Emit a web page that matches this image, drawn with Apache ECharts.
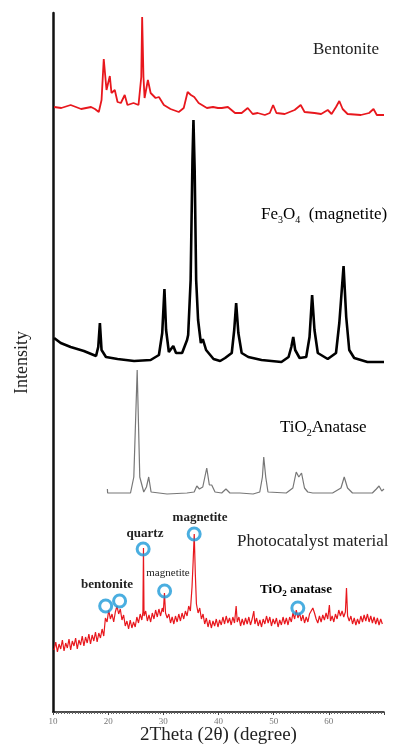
<!DOCTYPE html>
<html>
<head>
<meta charset="utf-8">
<title>XRD patterns</title>
<script src="https://cdn.jsdelivr.net/npm/echarts@6/dist/echarts.min.js"></script>
<style>
  html, body { margin: 0; padding: 0; background: #fff; }
  #chart { width: 395px; height: 747px; }
</style>
</head>
<body>
<div id="chart"></div>
<script>
// 2theta (degree) vs intensity, curves already stacked with their offsets
const bentonite = [
  [10.2, 605], [11.5, 604], [13.2, 607], [15.1, 603], [16.9, 605], [17.6, 603], [18.3, 600], [18.8, 612],
  [19.2, 653], [19.7, 622], [20.3, 636], [20.6, 619], [21.2, 622], [21.7, 610], [22.3, 609], [23.0, 617],
  [23.5, 607], [24.6, 609], [25.5, 607], [26.0, 635], [26.16, 695], [26.4, 635], [26.6, 614], [27.2, 632],
  [27.7, 619], [28.6, 614], [29.2, 615], [30.1, 607], [31.3, 603], [32.8, 600], [33.7, 604], [34.4, 620],
  [35.0, 617], [35.6, 615], [36.4, 609], [37.9, 604], [39.0, 605], [39.9, 604], [40.6, 604], [41.7, 605],
  [43.0, 599], [44.2, 599], [45.3, 604], [46.2, 598], [47.1, 599], [48.4, 597], [49.3, 599], [49.9, 607],
  [50.5, 599], [52.0, 598], [53.8, 602], [54.9, 607], [55.6, 600], [57.4, 599], [58.6, 598], [59.8, 602],
  [60.5, 598], [61.3, 605], [61.9, 611], [62.5, 603], [63.4, 598], [65.8, 597], [67.3, 599], [68.1, 603],
  [68.7, 597], [70.0, 597]
];

const magnetite = [
  [10.2, 374], [11.4, 369], [13.2, 365], [15.6, 361], [17.8, 356], [18.2, 365], [18.5, 389], [18.8, 362],
  [19.6, 355], [21.7, 353], [24.7, 351], [27.7, 352], [29.2, 357], [29.8, 379], [30.2, 423], [30.5, 382],
  [31.0, 360], [31.8, 366], [32.3, 359], [33.4, 359], [34.3, 372], [34.5, 377], [34.95, 432], [35.28, 552],
  [35.46, 592], [35.68, 542], [35.95, 432], [36.3, 392], [36.8, 369], [37.15, 373], [37.75, 362], [39.1, 353],
  [40.3, 351], [41.2, 354], [42.4, 359], [42.85, 382], [43.2, 409], [43.6, 379], [44.2, 359], [45.4, 355],
  [47.8, 352], [51.4, 350], [52.7, 355], [53.2, 365], [53.55, 375], [53.9, 362], [54.7, 354], [55.9, 355],
  [56.5, 375], [56.97, 417], [57.4, 382], [58.0, 359], [59.8, 353], [61.3, 359], [61.9, 389], [62.67, 446],
  [63.15, 395], [63.7, 362], [64.6, 354], [67.0, 350], [70.0, 350]
];

const anatase = [
  [19.86, 223], [19.9, 219], [21.05, 219], [24.05, 219], [24.65, 235], [25.26, 342], [25.73, 235], [26.45, 220],
  [26.94, 225], [27.35, 235], [27.78, 220], [30.67, 218], [34.27, 219], [35.59, 220], [36.07, 226], [36.54, 223],
  [37.15, 225], [37.87, 244], [38.34, 227], [38.77, 227], [39.37, 220], [40.58, 219], [41.35, 223], [42.07, 219],
  [43.87, 219], [46.27, 218], [47.48, 220], [47.96, 235], [48.2, 255], [48.56, 235], [48.97, 220], [52.29, 219],
  [53.48, 224], [54.09, 240], [54.56, 235], [55.05, 239], [55.59, 224], [56.18, 220], [57.08, 219], [60.68, 219],
  [62.2, 224], [62.79, 235], [63.39, 224], [64.29, 219], [67.89, 219], [68.61, 223], [69.1, 226], [69.59, 221],
  [70.0, 223]
];

const photocatalyst = [
  [10.2, 62], [10.5, 70], [10.8, 60], [11.1, 68], [11.4, 63], [11.7, 72], [12.0, 61], [12.3, 69], [12.6, 64],
  [12.9, 73], [13.2, 62], [13.5, 71], [13.8, 66], [14.1, 74], [14.4, 63], [14.7, 72], [15.0, 67], [15.3, 76],
  [15.6, 66], [15.9, 75], [16.2, 69], [16.5, 78], [16.8, 68], [17.1, 77], [17.4, 71], [17.7, 80], [18.0, 70],
  [18.3, 79], [18.6, 74], [18.9, 83], [19.2, 76], [19.5, 94], [19.8, 90], [20.1, 102], [20.4, 93], [20.7, 98],
  [21.0, 90], [21.3, 100], [21.6, 106], [21.9, 98], [22.2, 103], [22.5, 92], [22.8, 97], [23.1, 86], [23.4, 91],
  [23.7, 83], [24.0, 92], [24.3, 84], [24.6, 90], [24.9, 85], [25.2, 95], [25.5, 89], [25.8, 98], [26.1, 92],
  [26.3, 100], [26.4, 164], [26.5, 96], [26.8, 101], [27.1, 91], [27.4, 97], [27.7, 90], [28.0, 99], [28.3, 93],
  [28.6, 102], [28.9, 95], [29.2, 103], [29.5, 96], [29.8, 104], [30.0, 100], [30.2, 119], [30.4, 99], [30.7, 94],
  [31.0, 98], [31.3, 89], [31.6, 95], [31.9, 88], [32.2, 96], [32.5, 90], [32.8, 98], [33.1, 91], [33.4, 99],
  [33.7, 93], [34.0, 101], [34.3, 96], [34.6, 106], [34.9, 101], [35.2, 125], [35.4, 150], [35.6, 178], [35.8, 138],
  [36.0, 108], [36.3, 99], [36.6, 104], [36.9, 93], [37.2, 98], [37.5, 88], [37.8, 94], [38.1, 85], [38.4, 92],
  [38.7, 84], [39.0, 91], [39.3, 86], [39.6, 93], [39.9, 85], [40.2, 92], [40.5, 87], [40.8, 95], [41.1, 88],
  [41.4, 96], [41.7, 89], [42.0, 94], [42.3, 87], [42.6, 95], [42.9, 89], [43.2, 106], [43.4, 90], [43.7, 95],
  [44.0, 86], [44.3, 93], [44.6, 87], [44.9, 94], [45.2, 88], [45.5, 95], [45.8, 87], [46.1, 93], [46.4, 101],
  [46.6, 88], [46.9, 94], [47.2, 86], [47.5, 92], [47.8, 85], [48.1, 93], [48.4, 88], [48.7, 96], [49.0, 89],
  [49.3, 95], [49.6, 86], [49.9, 93], [50.2, 88], [50.5, 94], [50.8, 85], [51.1, 92], [51.4, 87], [51.7, 95],
  [52.0, 88], [52.3, 94], [52.6, 87], [52.9, 95], [53.2, 90], [53.5, 99], [53.8, 93], [54.1, 102], [54.4, 94],
  [54.7, 99], [55.0, 91], [55.3, 97], [55.6, 89], [55.9, 95], [56.2, 90], [56.5, 98], [56.8, 96], [57.1, 104],
  [57.4, 99], [57.7, 93], [58.0, 89], [58.3, 96], [58.6, 90], [58.9, 97], [59.2, 92], [59.5, 99], [59.8, 93],
  [60.1, 107], [60.3, 91], [60.6, 96], [60.9, 90], [61.2, 98], [61.5, 93], [61.8, 102], [62.1, 96], [62.4, 101],
  [62.7, 95], [63.0, 100], [63.2, 124], [63.4, 96], [63.7, 91], [64.0, 96], [64.3, 88], [64.6, 94], [64.9, 87],
  [65.2, 93], [65.5, 88], [65.8, 96], [66.1, 90], [66.4, 97], [66.7, 91], [67.0, 98], [67.3, 90], [67.6, 96],
  [67.9, 89], [68.2, 95], [68.5, 88], [68.8, 94], [69.1, 87], [69.4, 93], [69.7, 88]
];

// blue rings on the photocatalyst pattern
const phasePeaks = [[19.55, 106], [22.07, 111], [26.34, 163], [30.23, 121], [35.59, 178], [54.38, 104]];

const serif = "'Liberation Serif', 'DejaVu Serif', serif";
const red = '#e8171d';

const chart = echarts.init(document.getElementById('chart'));

function lineSeries(name, data, color, width) {
  return {
    name: name,
    type: 'line',
    data: data,
    symbol: 'none',
    lineStyle: { color: color, width: width },
    z: 2
  };
}

function label(x, y, text, size, weight, align) {
  return {
    type: 'text',
    x: x,
    y: y,
    z: 10,
    style: {
      text: text,
      fontFamily: serif,
      fontSize: size,
      fontWeight: weight || 'normal',
      fill: '#222',
      align: align || 'left',
      verticalAlign: 'middle'
    }
  };
}

const option = {
  animation: false,
  backgroundColor: '#fff',
  // keep the plot box fixed, no auto shrinking for the axis names
  grid: { left: 53, right: 11, top: 13, bottom: 35, containLabel: false, outerBoundsMode: 'none' },
  xAxis: {
    type: 'value',
    min: 10,
    max: 70,
    interval: 10,
    name: '2Theta (2θ) (degree)',
    nameLocation: 'middle',
    nameGap: 14,
    nameMoveOverlap: false,
    nameTextStyle: { fontFamily: serif, fontSize: 19, color: '#222' },
    axisLine: { lineStyle: { color: '#111', width: 1.5 } },
    axisTick: { length: 3, lineStyle: { color: '#444' } },
    minorTick: { show: true, splitNumber: 20, length: 2, lineStyle: { color: '#666' } },
    axisLabel: { fontFamily: serif, fontSize: 9, color: '#777', margin: 5, showMaxLabel: false },
    splitLine: { show: false }
  },
  yAxis: {
    type: 'value',
    min: 0,
    max: 699,
    name: 'Intensity',
    nameLocation: 'middle',
    nameGap: 22,
    nameTextStyle: { fontFamily: serif, fontSize: 18, color: '#222' },
    axisLine: { show: true, lineStyle: { color: '#111', width: 2.5 } },
    axisTick: { show: false },
    axisLabel: { show: false },
    splitLine: { show: false }
  },
  series: [
    lineSeries('Bentonite', bentonite, red, 1.8),
    lineSeries('Fe3O4', magnetite, '#000', 2.6),
    lineSeries('TiO2 Anatase', anatase, '#777', 1.2),
    lineSeries('Photocatalyst material', photocatalyst, red, 1.2),
    {
      name: 'phases',
      type: 'scatter',
      data: phasePeaks,
      symbol: 'circle',
      symbolSize: 12,
      itemStyle: { color: 'rgba(255,255,255,0)', borderColor: '#1d9ad8', borderWidth: 3 },
      z: 5
    }
  ],
  graphic: [
    label(313, 50, 'Bentonite', 17),
    {
      type: 'text',
      x: 261,
      y: 215,
      z: 10,
      style: {
        text: '{n|Fe}{s|3}{n|O}{s|4}{n|  (magnetite)}',
        align: 'left',
        verticalAlign: 'middle',
        rich: {
          n: { fontFamily: serif, fontSize: 17, color: '#222', lineHeight: 20, verticalAlign: 'middle' },
          s: { fontFamily: serif, fontSize: 10, color: '#222', lineHeight: 11, verticalAlign: 'bottom' }
        }
      }
    },
    {
      type: 'text',
      x: 280,
      y: 428,
      z: 10,
      style: {
        text: '{n|TiO}{s|2}{n|Anatase}',
        align: 'left',
        verticalAlign: 'middle',
        rich: {
          n: { fontFamily: serif, fontSize: 17, color: '#222', lineHeight: 20, verticalAlign: 'middle' },
          s: { fontFamily: serif, fontSize: 10, color: '#222', lineHeight: 11, verticalAlign: 'bottom' }
        }
      }
    },
    label(237, 542, 'Photocatalyst material', 17),
    label(107, 585, 'bentonite', 13, 'bold', 'center'),
    label(145, 534, 'quartz', 13, 'bold', 'center'),
    label(200, 518, 'magnetite', 13, 'bold', 'center'),
    label(168, 573, 'magnetite', 11, 'normal', 'center'),
    {
      type: 'text',
      x: 296,
      y: 590,
      z: 10,
      style: {
        text: '{n|TiO}{s|2}{n| anatase}',
        align: 'center',
        verticalAlign: 'middle',
        rich: {
          n: { fontFamily: serif, fontSize: 13, fontWeight: 'bold', color: '#222', lineHeight: 16, verticalAlign: 'middle' },
          s: { fontFamily: serif, fontSize: 9, fontWeight: 'bold', color: '#222', lineHeight: 10, verticalAlign: 'bottom' }
        }
      }
    }
  ]
};

chart.setOption(option);
</script>
</body>
</html>
